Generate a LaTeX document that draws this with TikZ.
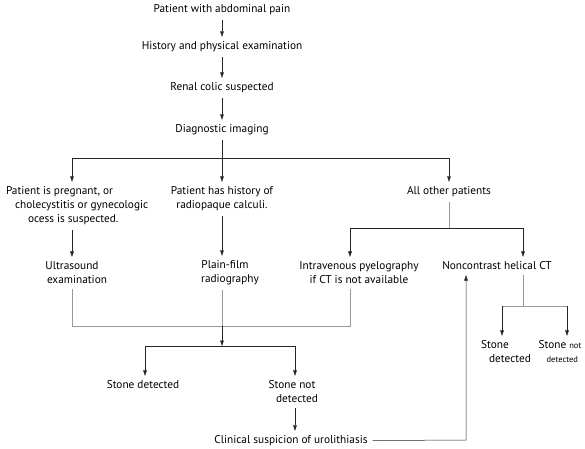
\documentclass[tikz,border=0pt]{standalone}
\usepackage{fontspec}
\setmainfont{PT Sans}
\usetikzlibrary{arrows.meta}
\begin{document}
\begin{tikzpicture}[x=1pt,y=-1pt,
  txt/.style={inner sep=0pt,outer sep=5pt,font=\fontsize{11.3}{14}\selectfont,align=center},
  ln/.style={line width=0.5pt,black!85},
  gln/.style={line width=0.5pt,black!40},
  arr/.style={ln,-{Triangle[length=5.5pt,width=3.6pt]}},
]
\useasboundingbox (0,0) rectangle (585,448);
% nodes
\node[txt] (n1) at (222,10) {Patient with abdominal pain};
\node[txt] (n2) at (222,47) {History and physical examination};
\node[txt] (n3) at (222,88) {Renal colic suspected};
\node[txt] (n4) at (222,130) {Diagnostic imaging};
\node[txt,align=left,anchor=west] (a1) at (1,206) {Patient is pregnant, or\\\hspace*{9pt}cholecystitis or gynecologic\\\hspace*{22pt}ocess is suspected.};
\node[txt] (a2) at (222,199) {Patient has history of\\radiopaque calculi.};
\node[txt] (a3) at (449,192) {All other patients};
\node[txt] (b1) at (72,273) {Ultrasound\\\hspace*{10pt}examination};
\node[txt] (b2) at (225,273) {Plain-film\\\hspace*{10pt}radiography};
\node[txt] (b3) at (359,273) {Intravenous pyelography\\if CT is not available};
\node[txt] (b4) at (497,266) {Noncontrast helical CT};
\node[txt] (c1) at (143,385) {Stone detected};
\node[txt] (c2) at (292,392) {Stone not\\\hspace*{10pt}detected};
\node[txt] (c3) at (291,441) {Clinical suspicion of urolithiasis};
\node[txt,font=\fontsize{11.3}{14}\selectfont,align=left] (d1) at (506,352) {Stone\\\hspace*{8pt}detected};
\node[txt,font=\fontsize{11.3}{14}\selectfont,align=left] (d2) at (560,352) {Stone {\fontsize{8.5}{9}\selectfont not}\\\hspace*{8pt}{\fontsize{8.5}{9}\selectfont detected}};
% junction coordinates
\coordinate (j1) at (222,158);
\coordinate (jl) at (72,158);
\coordinate (jr) at (449,158);
\coordinate (k1) at (222,326);
\coordinate (k2) at (222,346);
\coordinate (m1) at (449,228);
\coordinate (mr) at (523,228);
\coordinate (q1) at (523,306);
\coordinate (ql) at (502,306);
\coordinate (qr) at (567,306);
\coordinate (r1) at (466,440);
% connectors
\draw[arr] (n1) -- (n2);
\draw[arr] (n2) -- (n3);
\draw[arr] (n3) -- (n4);
\draw[ln] (n4) -- (j1);
\draw[arr] (j1) -- (jl) -- (jl |- a1.north);
\draw[arr] (j1) -- (222,0 |- a2.north);
\draw[arr] (j1) -- (jr) -- (a3);
\draw[arr] (jl |- a1.south) -- (jl |- b1.north);
\draw[arr] (222,0 |- a2.south) -- (222,0 |- b2.north);
\draw[gln] (jl |- b1.south) |- (k1);
\draw[gln] (350,0 |- b3.south) |- (k1);
\draw[gln] (222,0 |- b2.south) -- (k1);
\draw[arr] (k1) -- (k2);
\draw[arr] (k2) -| (145,0 |- c1.north);
\draw[arr] (k2) -| (295,0 |- c2.north);
\draw[arr] (295,0 |- c2.south) -- (295,0 |- c3.north);
\draw[gln] (a3) -- (m1);
\draw[arr] (m1) -| (350,0 |- b3.north);
\draw[arr] (m1) -- (mr) -- (mr |- b4.north);
\draw[gln] (mr |- b4.south) -- (q1);
\draw[gln] (ql) -- (qr);
\draw[arr] (ql) -- (ql |- d1.north);
\draw[arr] (qr) -- (qr |- d2.north);
\draw[arr] (c3) -- (r1) -- (r1 |- b4.south);
\end{tikzpicture}
\end{document}
